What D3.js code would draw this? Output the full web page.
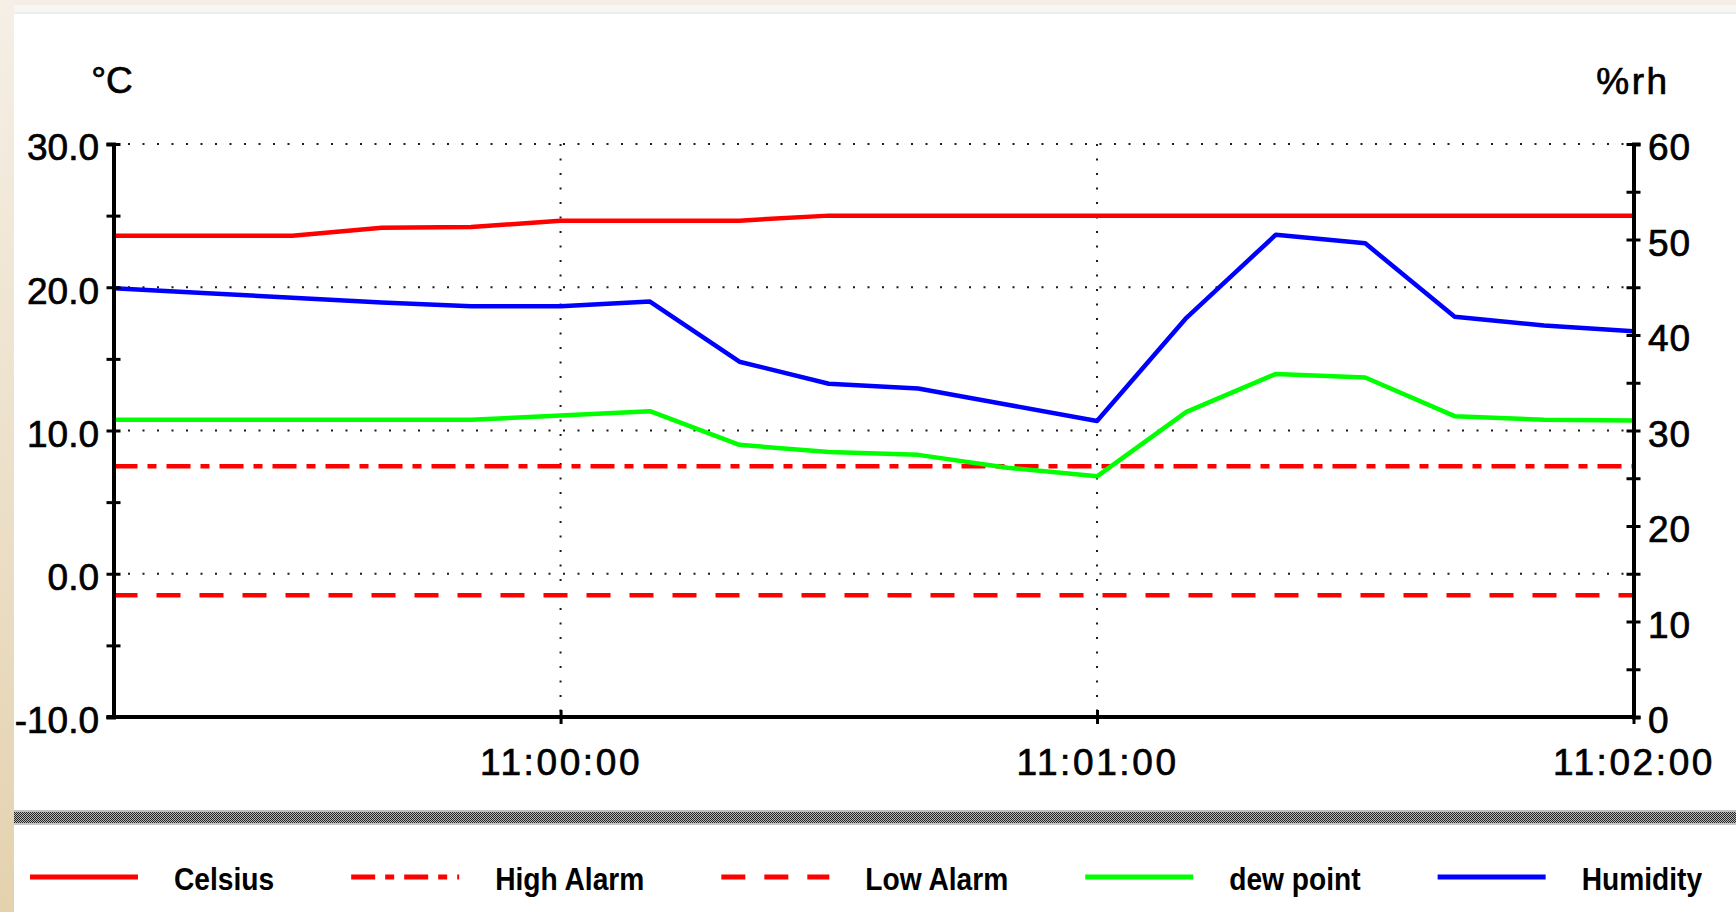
<!DOCTYPE html>
<html>
<head>
<meta charset="utf-8">
<script src="https://cdn.jsdelivr.net/npm/d3@7"></script>
<style>
html, body { margin: 0; padding: 0; overflow: hidden; background: #fff; }
svg { display: block; }
</style>
</head>
<body>
<svg class="svg-chart"></svg>
<script>
// logger samples, one every 10 s
const times = ["10:59:10", "10:59:20", "10:59:30", "10:59:40", "10:59:50", "11:00:00",
    "11:00:10", "11:00:20", "11:00:30", "11:00:40", "11:00:50", "11:01:00",
    "11:01:10", "11:01:20", "11:01:30", "11:01:40", "11:01:50", "11:02:00"]
const celsius = [23.6, 23.6, 23.6, 24.15, 24.2, 24.65, 24.65, 24.65, 25.0, 25.0, 25.0, 25.0, 25.0, 25.0, 25.0, 25.0, 25.0, 25.0]
const dewPoint = [10.75, 10.75, 10.75, 10.75, 10.75, 11.05, 11.35, 9.0, 8.5, 8.3, 7.4, 6.8, 11.3, 13.95, 13.7, 11.0, 10.75, 10.7]
const humidity = [44.9, 44.4, 43.9, 43.4, 43.0, 43.0, 43.5, 37.2, 34.9, 34.4, 32.7, 31.0, 41.8, 50.5, 49.6, 41.9, 41.0, 40.4]
const highAlarm = 7.5
const lowAlarm = -1.5

const tempTicks = [-10, 0, 10, 20, 30]
const tempMinorTicks = [-5, 5, 15, 25]
const tempGrid = [0, 10, 20, 30]
const rhTicks = [0, 10, 20, 30, 40, 50, 60]
const rhMinorTicks = [5, 15, 25, 35, 45, 55]
const timeTicks = ["11:00:00", "11:01:00", "11:02:00"]
const timeGrid = ["11:00:00", "11:01:00"]
const seriesNames = ["Celsius", "High Alarm", "Low Alarm", "dew point", "Humidity"]

// styling of each series (legend + plot)
const seriesStyle = {
    "Celsius": { color: "#ff0000", dash: null },
    "High Alarm": { color: "#ff0000", dash: "24,10,9,10" },
    "Low Alarm": { color: "#ff0000", dash: "24,19" },
    "dew point": { color: "#00ff00", dash: null },
    "Humidity": { color: "#0000ff", dash: null },
}

const W = 1736, H = 912
const plot = { left: 113.5, right: 1633.5, top: 144, bottom: 717 }
const font = "'Liberation Sans', Arial, Helvetica, sans-serif"

const parseTime = d3.timeParse("%H:%M:%S")
const dates = times.map(parseTime)

const svg = d3.select(".svg-chart")
    .attr("width", W)
    .attr("height", H)

// background frame
const defs = svg.append("defs")
const grad = defs.append("linearGradient")
    .attr("id", "beige").attr("x1", 0).attr("y1", 0).attr("x2", 0).attr("y2", 1)
grad.append("stop").attr("offset", "0%").attr("stop-color", "#f5efe6")
grad.append("stop").attr("offset", "100%").attr("stop-color", "#e4d2ae")
const hatch = defs.append("pattern")
    .attr("id", "hatch").attr("width", 2).attr("height", 2)
    .attr("patternUnits", "userSpaceOnUse")
hatch.append("rect").attr("width", 2).attr("height", 2).attr("fill", "#b4b4b4")
hatch.append("rect").attr("width", 1).attr("height", 1).attr("fill", "#262626")
hatch.append("rect").attr("x", 1).attr("y", 1).attr("width", 1).attr("height", 1).attr("fill", "#262626")

svg.append("rect").attr("width", W).attr("height", H).attr("fill", "#ffffff")
svg.append("rect").attr("width", W).attr("height", 5).attr("fill", "#f4eee4")
svg.append("rect").attr("x", 14).attr("y", 5).attr("width", W - 14).attr("height", 8).attr("fill", "#f8f6f2")
svg.append("rect").attr("x", 14).attr("y", 12).attr("width", W - 14).attr("height", 2).attr("fill", "#ececec")
svg.append("rect").attr("width", 14).attr("height", H).attr("fill", "url(#beige)")

// separator band above legend
svg.append("rect").attr("x", 14).attr("y", 810).attr("width", W - 14).attr("height", 15).attr("fill", "url(#hatch)")
svg.append("rect").attr("x", 14).attr("y", 810).attr("width", W - 14).attr("height", 2).attr("fill", "#bdbdbd")
svg.append("rect").attr("x", 14).attr("y", 823).attr("width", W - 14).attr("height", 2).attr("fill", "#c6c6c6")

//Scales
const x_scale = d3.scaleTime()
    .domain([parseTime("10:59:10"), parseTime("11:02:00")])
    .range([plot.left, plot.right])
const yTemp = d3.scaleLinear()
    .domain([-10, 30])
    .range([plot.bottom, plot.top])
const yRh = d3.scaleLinear()
    .domain([0, 60])
    .range([plot.bottom, plot.top])

//Grid (dotted)
const grid = svg.append("g").attr("class", "grid")
    .attr("stroke", "#1a1a1a")
    .attr("stroke-width", 2)
    .attr("stroke-dasharray", "2,12.5")
grid.selectAll(".h")
    .data(tempGrid)
    .join("line")
    .attr("x1", plot.left).attr("x2", plot.right)
    .attr("y1", d => yTemp(d)).attr("y2", d => yTemp(d))
grid.selectAll(".v")
    .data(timeGrid.map(parseTime))
    .join("line")
    .attr("x1", d => x_scale(d)).attr("x2", d => x_scale(d))
    .attr("y1", plot.top).attr("y2", plot.bottom)

//Series lines
const tempLine = d3.line()
    .x((d, i) => x_scale(dates[i]))
    .y(d => yTemp(d))
const rhLine = d3.line()
    .x((d, i) => x_scale(dates[i]))
    .y(d => yRh(d))

const seriesData = {
    "Celsius": { values: celsius, line: tempLine },
    "High Alarm": { values: dates.map(() => highAlarm), line: tempLine },
    "Low Alarm": { values: dates.map(() => lowAlarm), line: tempLine },
    "dew point": { values: dewPoint, line: tempLine },
    "Humidity": { values: humidity, line: rhLine },
}

const lines = svg.append("g").attr("class", "series")
seriesNames.forEach(name => {
    const st = seriesStyle[name]
    lines.append("path")
        .attr("d", seriesData[name].line(seriesData[name].values))
        .attr("fill", "none")
        .attr("stroke", st.color)
        .attr("stroke-width", 4.5)
        .attr("stroke-dasharray", st.dash)
        .attr("stroke-linejoin", "round")
})

//Axes
const styleAxis = (g) => {
    g.select(".domain").attr("stroke", "#000").attr("stroke-width", 4)
    g.selectAll(".tick line").attr("stroke", "#000").attr("stroke-width", 3)
    g.selectAll("text")
        .attr("fill", "#000")
        .attr("stroke", "#000")
        .attr("stroke-width", 0.7)
        .style("font-family", font)
        .style("font-size", "37px")
}

// left (°C)
const leftAxis = svg.append("g")
    .attr("transform", `translate(${plot.left},0)`)
    .call(d3.axisLeft(yTemp).tickValues(tempTicks).tickSize(7).tickPadding(7.5)
        .tickFormat(d => d.toFixed(1)))
leftAxis.call(styleAxis)
leftAxis.selectAll(".tick line").attr("x1", 7)
leftAxis.selectAll(".tick text").attr("dy", "0.43em")
svg.append("g")
    .attr("transform", `translate(${plot.left},0)`)
    .call(d3.axisLeft(yTemp).tickValues(tempMinorTicks).tickSize(7).tickFormat(""))
    .call(g => g.select(".domain").remove())
    .call(g => g.selectAll(".tick line").attr("x1", 7).attr("stroke", "#000").attr("stroke-width", 3))

// right (%rh)
const rightAxis = svg.append("g")
    .attr("transform", `translate(${plot.right},0)`)
    .call(d3.axisRight(yRh).tickValues(rhTicks).tickSize(7).tickPadding(7.5)
        .tickFormat(d3.format("d")))
rightAxis.call(styleAxis)
rightAxis.selectAll(".tick line").attr("x1", -7)
rightAxis.selectAll(".tick text").attr("dy", "0.43em").style("letter-spacing", "1px")
svg.append("g")
    .attr("transform", `translate(${plot.right},0)`)
    .call(d3.axisRight(yRh).tickValues(rhMinorTicks).tickSize(7).tickFormat(""))
    .call(g => g.select(".domain").remove())
    .call(g => g.selectAll(".tick line").attr("x1", -7).attr("stroke", "#000").attr("stroke-width", 3))

// bottom (time)
const bottomAxis = svg.append("g")
    .attr("transform", `translate(0,${plot.bottom})`)
    .call(d3.axisBottom(x_scale).tickValues(timeTicks.map(parseTime)).tickSize(7).tickPadding(24.7)
        .tickFormat(d3.timeFormat("%H:%M:%S")))
bottomAxis.call(styleAxis)
bottomAxis.selectAll(".tick line").attr("y1", -7)
bottomAxis.selectAll(".tick text").style("letter-spacing", "2.6px")
bottomAxis.select(".domain").attr("d", `M${plot.left - 7},0H${plot.right}`)

// unit labels
svg.append("text")
    .attr("x", 112).attr("y", 93)
    .attr("text-anchor", "middle")
    .attr("stroke", "#000").attr("stroke-width", 0.7)
    .style("font-family", font).style("font-size", "37px")
    .text("°C")
svg.append("text")
    .attr("x", 1633).attr("y", 94)
    .attr("text-anchor", "middle")
    .attr("stroke", "#000").attr("stroke-width", 0.7)
    .style("font-family", font).style("font-size", "37px")
    .style("letter-spacing", "2.5px")
    .text("%rh")

//Legend
const legend = svg.append("g").attr("class", "legend")
let lx = 30
seriesNames.forEach(name => {
    const st = seriesStyle[name]
    legend.append("line")
        .attr("x1", lx).attr("x2", lx + 108)
        .attr("y1", 877).attr("y2", 877)
        .attr("stroke", st.color)
        .attr("stroke-width", 5)
        .attr("stroke-dasharray", st.dash)
    const t = legend.append("text")
        .attr("x", lx + 144).attr("y", 890)
        .style("font-family", font)
        .style("font-size", "32px")
        .style("font-weight", "bold")
        .text(name)
    const natural = t.node().getComputedTextLength()
    const w = natural * 0.88
    t.attr("textLength", w).attr("lengthAdjust", "spacingAndGlyphs")
    lx = lx + 144 + w + 77
})
</script>
</body>
</html>
